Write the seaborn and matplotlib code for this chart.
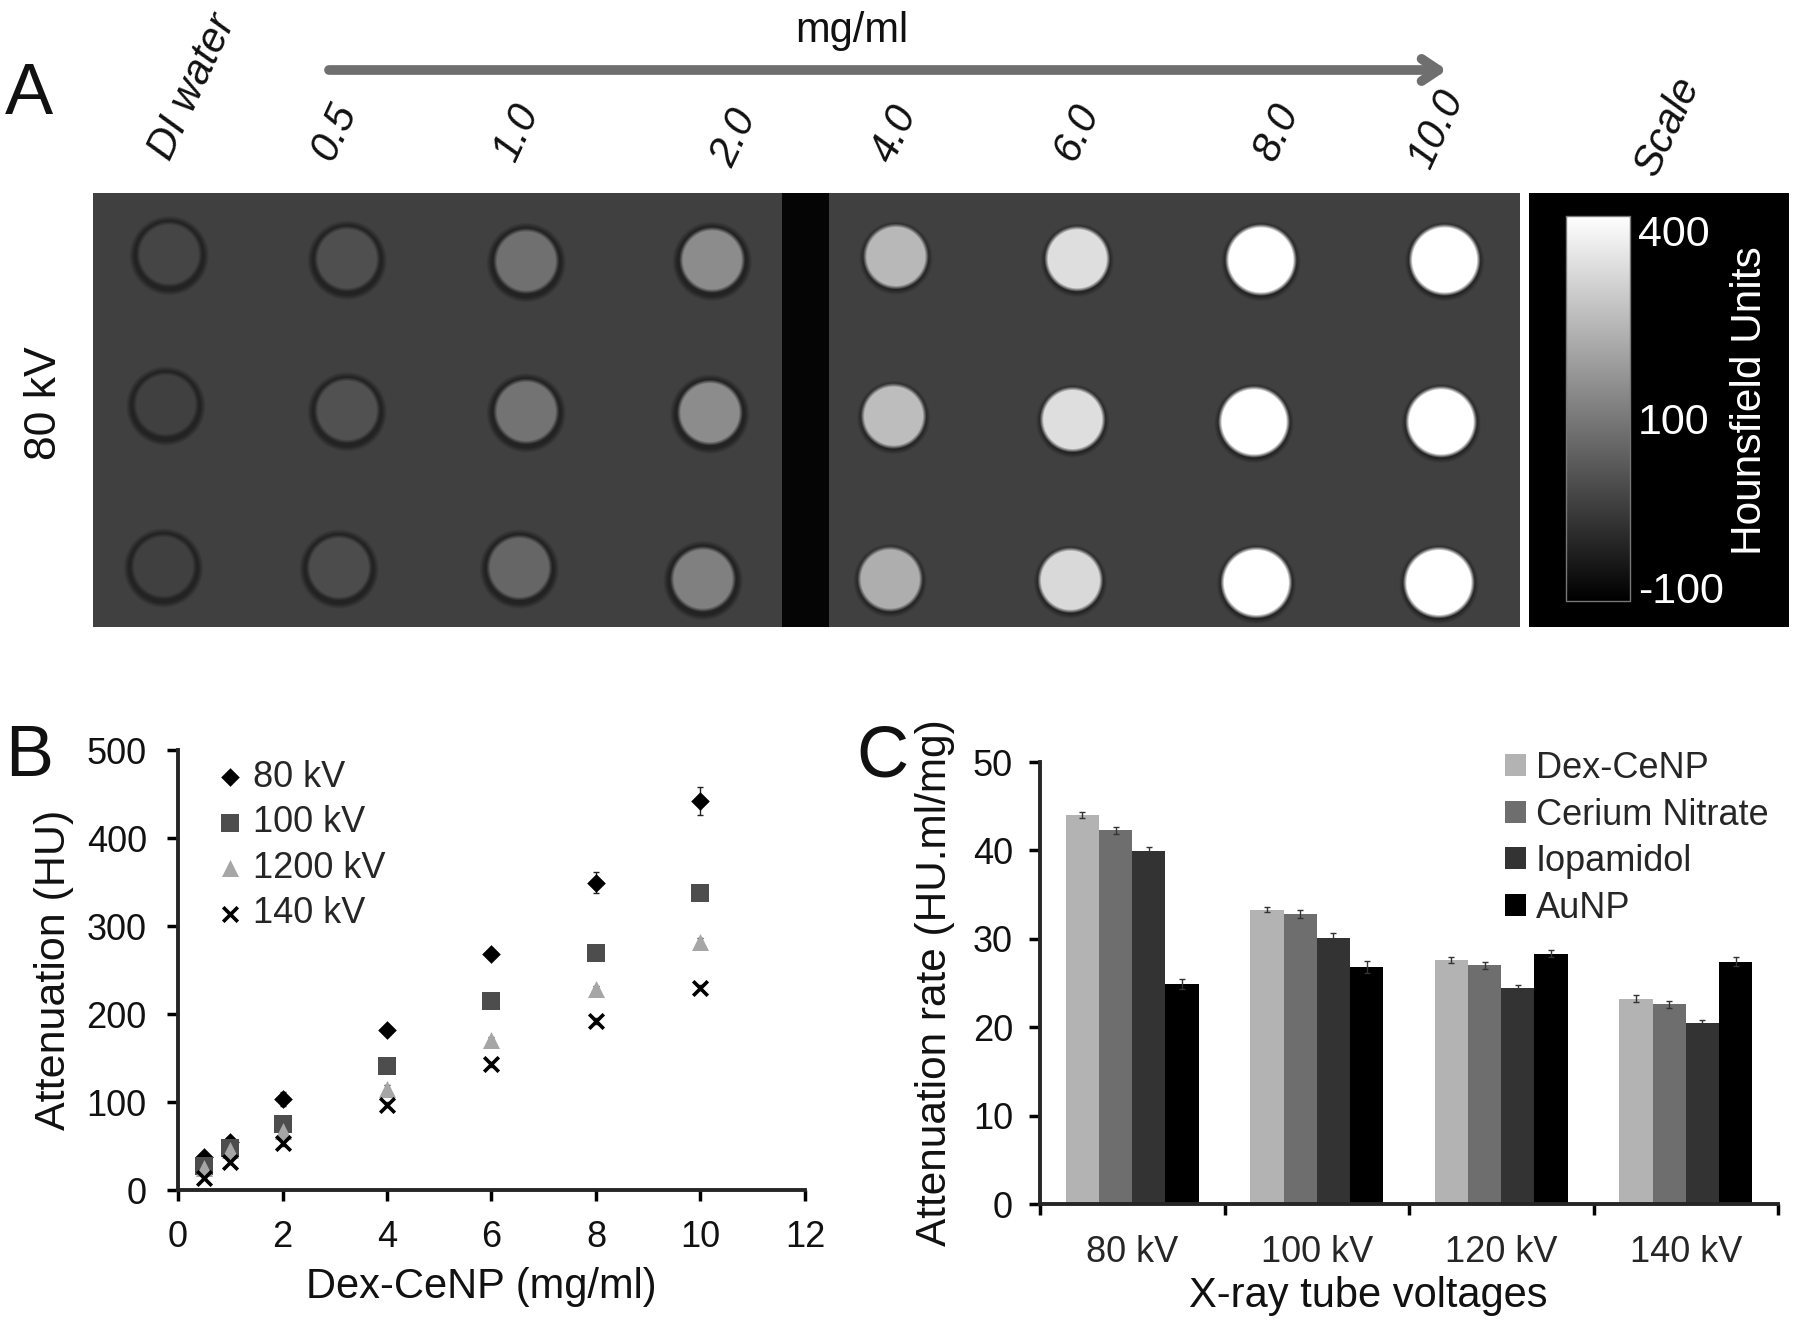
#! /usr/bin/env python3
# -*- coding: utf-8 -*-

import numpy as np
import pandas as pd
import matplotlib
matplotlib.use('Agg')
import matplotlib.pyplot as plt
import seaborn as sns

W, H = 1800, 1327
S = 1800 / 1568  # positions below

#Panel A: mean grey level of each well (0 black, 1 white)
well_grey_row1 = [0.27, 0.31, 0.44, 0.55, 0.72, 0.87, 1.0, 1.0]
well_grey_row2 = [0.25, 0.32, 0.45, 0.55, 0.74, 0.87, 1.0, 1.0]
well_grey_row3 = [0.25, 0.30, 0.40, 0.50, 0.68, 0.85, 1.0, 1.0]
background_grey = 0.25
conc_labels = ['0.5', '1.0', '2.0', '4.0', '6.0', '8.0', '10.0']
scale_labels = ['400', '100', '-100']

#Panel B
conc = [0.5, 1, 2, 4, 6, 8, 10]
hu_80 = [37, 55, 103, 182, 268, 349, 442]
hu_100 = [27, 48, 75, 141, 215, 269, 338]
hu_120 = [25, 45, 67, 115, 170, 228, 282]
hu_140 = [14, 32, 53, 97, 143, 192, 230]
err_80 = [3, 4, 8, 4, 4, 12, 16]
err_100 = [3, 3, 5, 4, 4, 8, 5]
err_120 = [2, 3, 4, 4, 4, 4, 4]
err_140 = [2, 2, 3, 3, 3, 3, 3]
b_names = ['80 kV', '100 kV', '1200 kV', '140 kV']

#Panel C
voltages = ['80 kV', '100 kV', '120 kV', '140 kV']
agents = ['Dex-CeNP', 'Cerium Nitrate', 'Iopamidol', 'AuNP']
rate_dex = [44.0, 33.3, 27.6, 23.2]
rate_cer = [42.3, 32.8, 27.0, 22.6]
rate_iop = [39.9, 30.1, 24.4, 20.5]
rate_au = [24.9, 26.8, 28.3, 27.4]
rate_err_dex = [0.3, 0.3, 0.3, 0.4]
rate_err_cer = [0.4, 0.5, 0.4, 0.4]
rate_err_iop = [0.5, 0.6, 0.4, 0.3]
rate_err_au = [0.6, 0.7, 0.4, 0.5]

sns.set_style('white')
plt.rcParams['font.family'] = ['Liberation Sans', 'DejaVu Sans']
TICK = 26
ROT = 30

fig = plt.figure(figsize=(W / 100, H / 100), dpi=100, facecolor='white')


def axes_px(left, top, right, bottom):
    '''Axes placed by pixel edges of the 1800x1327 picture.'''
    return fig.add_axes([left / W, 1 - bottom / H, (right - left) / W, (bottom - top) / H])


#####PANEL A#####
# well centres, in shrunk picture pixels
well_x = [[147, 302, 458, 620, 780, 938, 1098, 1258],
          [144, 302, 458, 618, 778, 934, 1092, 1255],
          [142, 295, 452, 612, 775, 932, 1094, 1253]]
well_y = [[221, 225, 227, 226, 223, 225, 226, 226],
          [352, 357, 358, 359, 362, 365, 367, 367],
          [493, 494, 494, 504, 504, 505, 507, 507]]
left, right, top, bottom = 93, 1520, 193, 627
xx, yy = np.meshgrid(np.arange(left, right), np.arange(top, bottom))
img = np.full(xx.shape, background_grey)
for row, greys in enumerate([well_grey_row1, well_grey_row2, well_grey_row3]):
    for col, grey in enumerate(greys):
        d = np.hypot(xx - well_x[row][col] * S, yy - well_y[row][col] * S)
        r = 33 if col < 6 else 36
        rim_width = 7 if col < 4 else 4
        # dark rim sits a little low in the tube
        d_rim = np.hypot(xx - well_x[row][col] * S, yy - well_y[row][col] * S - 1.5)
        rim = np.clip((r + rim_width - d_rim) / 5, 0, 1)
        inner = np.clip((r - d) / 4, 0, 1)
        img = img * (1 - rim) + 0.14 * rim
        img = img * (1 - inner) + grey * inner
img[:, int(682 * S) - left:int(723 * S) - left] = 0.02

ax_a = axes_px(left, top, right, bottom)
ax_a.imshow(img, cmap='gray', vmin=0, vmax=1, aspect='auto')
ax_a.axis('off')

# scale bar panel
ax_s = axes_px(1529, top, 1789, bottom)
ax_s.set_facecolor('black')
ax_s.set_xticks([])
ax_s.set_yticks([])
for sp in ax_s.spines.values():
    sp.set_visible(False)
ax_s.imshow(np.linspace(1, 0, 256).reshape(-1, 1), cmap='gray', vmin=0, vmax=1,
            extent=[1566, 1630, 601, 216], aspect='auto')
ax_s.plot([1566, 1630, 1630, 1566, 1566], [216, 216, 601, 601, 216], color='#777777', lw=1)
ax_s.set_xlim(1529, 1789)
ax_s.set_ylim(bottom, top)
for lab, y in zip(scale_labels, [235, 423, 592]):
    ax_s.text(1638, y, lab, color='white', fontsize=31, ha='left', va='center')
ax_s.text(1750, 401, 'Hounsfield Units', color='white', fontsize=30.5, rotation=90,
          ha='center', va='center')

#####PANEL B#####
ax_b = axes_px(178, 750, 805, 1190)
series_b = [(hu_80, err_80, 'D', 'black', 90),
            (hu_100, err_100, 's', '#4d4d4d', 150),
            (hu_120, err_120, '^', '#a6a6a6', 150),
            (hu_140, err_140, 'x', 'black', 110)]
for name, (vals, errs, marker, colour, size) in zip(b_names, series_b):
    ax_b.errorbar(conc, vals, yerr=errs, fmt='none', ecolor='#222222', elinewidth=1, capsize=2.5, zorder=2)
    df_b = pd.DataFrame({'conc': conc, 'hu': vals})
    kw = {'linewidth': 2.6} if marker == 'x' else {'linewidth': 0}
    sns.scatterplot(data=df_b, x='conc', y='hu', ax=ax_b, marker=marker, color=colour,
                    s=size, label=name, zorder=3, clip_on=False, **kw)
ax_b.set_xlim(0, 12)
ax_b.set_ylim(0, 500)
ax_b.set_xticks(range(0, 13, 2))
ax_b.set_yticks(range(0, 501, 100))
ax_b.set_xlabel('Dex-CeNP (mg/ml)', fontsize=30, labelpad=9, x=0.483)
ax_b.set_ylabel('Attenuation (HU)', fontsize=31, labelpad=9)
ax_b.legend(frameon=False, fontsize=TICK, loc='upper left', bbox_to_anchor=(0.048, 0.978),
            handletextpad=0.05, labelspacing=0.29, borderpad=0, borderaxespad=0, handlelength=1.2)

#####PANEL C#####
ax_c = axes_px(1040, 762, 1778, 1204)
df_c = pd.DataFrame({'voltage': voltages * 4,
                     'agent': np.repeat(agents, 4),
                     'rate': rate_dex + rate_cer + rate_iop + rate_au})
sns.barplot(data=df_c, x='voltage', y='rate', hue='agent', ax=ax_c, errorbar=None, width=0.72,
            gap=0, palette=['#b3b3b3', '#6e6e6e', '#333333', '#000000'], saturation=1, linewidth=0)
for cont, errs in zip(ax_c.containers, [rate_err_dex, rate_err_cer, rate_err_iop, rate_err_au]):
    xs = [b.get_x() + b.get_width() / 2 for b in cont]
    ys = [b.get_height() for b in cont]
    ax_c.errorbar(xs, ys, yerr=errs, fmt='none', ecolor='#333333', elinewidth=1, capsize=2.5)
ax_c.set_xlim(-0.5, 3.5)
ax_c.set_ylim(0, 50)
ax_c.set_yticks(range(0, 51, 10))
ax_c.set_xticks(np.arange(-0.5, 4, 1))
ax_c.set_xticklabels([])
ax_c.set_xticks(range(4), labels=voltages, minor=True)
ax_c.tick_params(axis='x', which='minor', length=0, labelsize=TICK, pad=22)
ax_c.set_xlabel('X-ray tube voltages', fontsize=30, labelpad=5, x=0.445)
ax_c.set_ylabel('Attenuation rate (HU.ml/mg)', fontsize=30.5, labelpad=13)
sns.move_legend(ax_c, loc='upper left', bbox_to_anchor=(0.63, 1.025), frameon=False, title=None,
                fontsize=TICK, handlelength=0.57, handleheight=0.57, handletextpad=0.29,
                labelspacing=0.32, borderpad=0, borderaxespad=0)

# same axis look on both plots
for ax, ypad, xpad in [(ax_b, 14.5, 13.5), (ax_c, 11.5, 3.5)]:
    sns.despine(ax=ax)
    ax.spines['left'].set_linewidth(2.8)
    ax.spines['bottom'].set_linewidth(2.8)
    ax.tick_params(axis='both', which='major', direction='out', length=8, width=2.5,
                   left=True, bottom=True, labelsize=TICK, color='black', labelcolor='#111111')
    ax.tick_params(axis='y', pad=ypad)
    ax.tick_params(axis='x', which='major', pad=xpad)
    ax.yaxis.label.set_color('#111111')
    ax.xaxis.label.set_color('#111111')

#####OVERLAY TEXT#####
ov = fig.add_axes([0, 0, 1, 1], zorder=10)
ov.set_xlim(0, W)
ov.set_ylim(H, 0)
ov.axis('off')
ov.patch.set_alpha(0)
ov.annotate('', xy=(1447, 70), xytext=(329, 70),
            arrowprops=dict(arrowstyle='->,head_length=1.2,head_width=0.8', color='#6f6f6f', lw=7,
                            shrinkA=0, shrinkB=0))
ov.text(852, 31, 'mg/ml', fontsize=30, ha='center', va='center', color='#111111')
for lab, x, y in zip(conc_labels, [334, 517, 735, 895, 1077, 1277, 1437], [132, 132, 138, 134, 132, 132, 129]):
    ov.text(x, y, lab, fontsize=ROT, style='italic', rotation=65, ha='center', va='center', color='#111111')
ov.text(193, 87, 'DI water', fontsize=ROT, style='italic', rotation=65, ha='center', va='center', color='#111111')
ov.text(1668, 126, 'Scale', fontsize=ROT, style='italic', rotation=65, ha='center', va='center', color='#111111')
ov.text(44, 403, '80 kV', fontsize=32, rotation=90, ha='center', va='center', color='#111111')
ov.text(29, 95, 'A', fontsize=52, ha='center', va='center', color='#111111')
ov.text(29, 758, 'B', fontsize=52, ha='center', va='center', color='#111111')
ov.text(882, 758, 'C', fontsize=52, ha='center', va='center', color='#111111')

fig.savefig('out.png', dpi=100)
plt.close()
